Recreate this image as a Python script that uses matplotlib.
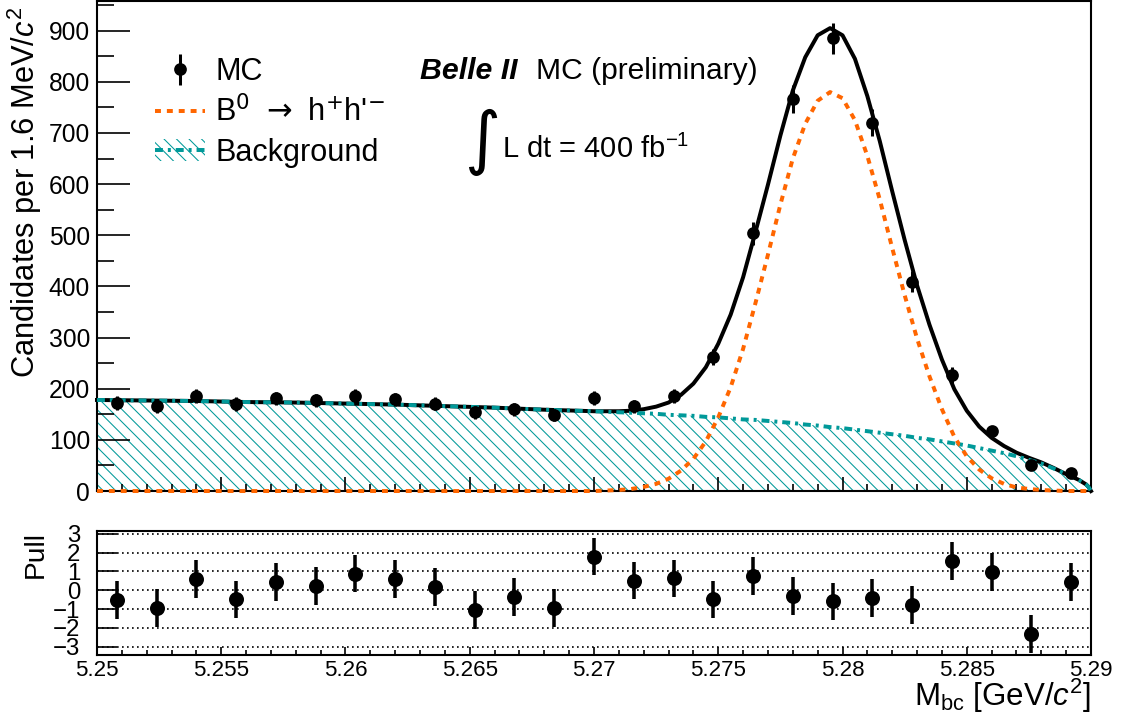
import numpy as np
import matplotlib
matplotlib.use("Agg")
import matplotlib.pyplot as plt
from matplotlib.lines import Line2D
from matplotlib.patches import Patch
from matplotlib.ticker import MultipleLocator

# histogram of MC candidates (1.6 MeV bins) and fit pulls
bin_centers = [5.2508, 5.2524, 5.2540, 5.2556, 5.2572, 5.2588, 5.2604, 5.2620, 5.2636,
               5.2652, 5.2668, 5.2684, 5.2700, 5.2716, 5.2732, 5.2748, 5.2764, 5.2780,
               5.2796, 5.2812, 5.2828, 5.2844, 5.2860, 5.2876, 5.2892]
counts = [172, 166, 185, 170, 181, 177, 185, 179, 171, 154, 160, 149, 182, 166, 186,
          262, 504, 767, 885, 720, 409, 227, 117, 50, 36]
pulls = [-0.50, -0.93, 0.59, -0.48, 0.43, 0.23, 0.89, 0.59, 0.18, -1.04, -0.36, -0.93,
         1.79, 0.52, 0.63, -0.48, 0.77, -0.30, -0.59, -0.41, -0.77, 1.55, 0.96, -2.32, 0.45]

# fit components
curve_x = [5.250, 5.252, 5.254, 5.256, 5.258, 5.260, 5.262, 5.264, 5.266, 5.268,
           5.2700, 5.2705, 5.2710, 5.2715, 5.2720, 5.2725, 5.2730, 5.2735, 5.2740, 5.2745,
           5.2750, 5.2755, 5.2760, 5.2765, 5.2770, 5.2775, 5.2780, 5.2785, 5.2790, 5.2795,
           5.2800, 5.2805, 5.2810, 5.2815, 5.2820, 5.2825, 5.2830, 5.2835, 5.2840, 5.2845,
           5.2850, 5.2855, 5.2860, 5.2865, 5.2870, 5.2875, 5.2880, 5.2885, 5.2890, 5.2895,
           5.2898, 5.2899, 5.2900]
signal = [0, 0, 0, 0, 0, 0, 0, 0, 0, 0,
          0, 1, 2, 4, 8, 14, 24, 40, 63, 97,
          144, 203, 278, 368, 462, 560, 650, 718, 763, 780,
          768, 725, 655, 570, 475, 383, 298, 224, 160, 106,
          68, 42, 25, 14, 7, 4, 2, 1, 0, 0,
          0, 0, 0]
background = [178, 177, 176, 174, 173, 171, 169, 166, 163, 159,
              156, 155, 154, 153, 152, 151, 149, 148, 147, 145,
              144, 142, 140, 139, 137, 135, 133, 130, 128, 125,
              123, 120, 117, 114, 111, 108, 104, 101, 97, 93,
              89, 84, 79, 74, 68, 61, 54, 44, 33, 22,
              13, 8, 0]

total = np.array(signal) + np.array(background)

orange = '#ff6600'
teal = '#009999'
sig_ls = (0, (1.5, 1.5))
bkg_ls = (0, (2, 1.25, 0.75, 1.25))
hatch = '\\\\\\\\'

plt.rcParams['font.family'] = ['Liberation Sans', 'DejaVu Sans']
plt.rcParams['mathtext.fontset'] = 'custom'
plt.rcParams['mathtext.rm'] = 'Liberation Sans'
plt.rcParams['mathtext.it'] = 'Liberation Sans:italic'
plt.rcParams['mathtext.bf'] = 'Liberation Sans:bold'
plt.rcParams['hatch.linewidth'] = 0.5

DPI = 150
fig = plt.figure(figsize=(1125 / DPI, 722 / DPI), dpi=DPI)
ax = fig.add_axes([0.0862, 0.3199, 0.8836, 0.6787])
axp = fig.add_axes([0.0862, 0.0928, 0.8836, 0.1722])

# main panel
ax.fill_between(curve_x, 0, background, facecolor='none', edgecolor=teal,
                hatch=hatch, linewidth=0, zorder=1)
ax.plot(curve_x, total, color='black', lw=1.9, zorder=2, clip_on=False)
ax.plot(curve_x, signal, color=orange, lw=1.9, ls=sig_ls, zorder=3, clip_on=False)
ax.plot(curve_x, background, color=teal, lw=1.9, ls=bkg_ls, zorder=4, clip_on=False)
mc = ax.errorbar(bin_centers, counts, yerr=np.sqrt(counts), fmt='o', color='black',
                 ms=5.1, elinewidth=1.45, capsize=0, zorder=5)

ax.set_xlim(5.25, 5.29)
ax.set_ylim(0, 958)
ax.xaxis.set_major_locator(MultipleLocator(0.005))
ax.xaxis.set_minor_locator(MultipleLocator(0.001))
ax.yaxis.set_major_locator(MultipleLocator(100))
ax.yaxis.set_minor_locator(MultipleLocator(50))
ax.tick_params(which='both', direction='in', top=False, right=False, width=0.8)
ax.tick_params(axis='y', which='major', length=15.8, labelsize=11.8, pad=3.4)
ax.tick_params(axis='y', which='minor', length=8.2)
ax.tick_params(axis='x', which='major', length=6.7, labelbottom=False)
ax.tick_params(axis='x', which='minor', length=3.4)
for s in ax.spines.values():
    s.set_linewidth(1.0)

handles = [mc,
           Line2D([], [], color=orange, lw=1.9, ls=sig_ls),
           (Patch(facecolor='none', edgecolor=teal, hatch=hatch, lw=0),
            Line2D([], [], color=teal, lw=1.9, ls=bkg_ls))]
labels = ['MC', r"B$^{0}\ \rightarrow\ $h$^{+}$h'$^{-}$", 'Background']
leg = ax.legend(handles, labels, loc='upper left', bbox_to_anchor=(155 / 1125, 1 - 57 / 722),
                bbox_transform=fig.transFigure, frameon=False, fontsize=14.7,
                handlelength=1.63, handletextpad=0.33, labelspacing=0.3,
                borderaxespad=0, borderpad=0)
leg.get_texts()[1].set_math_fontfamily('dejavusans')

fig.text(420 / 1125, 1 - 79 / 722, 'Belle II', fontsize=14.5, fontweight='bold',
         fontstyle='italic', va='baseline')
fig.text(536 / 1125, 1 - 79 / 722, 'MC (preliminary)', fontsize=14.4, va='baseline')
fig.text(481 / 1125, 1 - 142 / 722, r'$\int$', fontsize=23.5, ha='center', va='center',
         math_fontfamily='dejavusans')
fig.text(502 / 1125, 1 - 158 / 722, 'L dt = 400 fb$^{-1}$', fontsize=14, va='baseline')

# pull panel
for v in range(-3, 4):
    axp.axhline(v, color='black', lw=0.8, ls=(0, (1, 2)), zorder=0)
axp.errorbar(bin_centers, pulls, yerr=1, fmt='o', color='black', ms=6.2,
             elinewidth=1.7, capsize=0, zorder=3)
axp.set_xlim(5.25, 5.29)
axp.set_ylim(-3.44, 3.17)
axp.set_yticks(range(-3, 4))
axp.xaxis.set_major_locator(MultipleLocator(0.005))
axp.xaxis.set_minor_locator(MultipleLocator(0.001))
axp.set_xticks([5.25, 5.255, 5.26, 5.265, 5.27, 5.275, 5.28, 5.285, 5.29])
axp.set_xticklabels(['5.25', '5.255', '5.26', '5.265', '5.27', '5.275', '5.28', '5.285', '5.29'])
axp.tick_params(which='both', direction='in', top=False, right=False, width=0.8)
axp.tick_params(axis='y', which='major', length=9.6, labelsize=11.5, pad=8)
axp.tick_params(axis='x', which='major', length=4, labelsize=10.75, pad=2.4)
axp.tick_params(axis='x', which='minor', length=2.4)
for s in axp.spines.values():
    s.set_linewidth(1.0)

fig.text(25 / 1125, 1 - 192 / 722, 'Candidates per 1.6 MeV/$c^{2}$', rotation=90,
         ha='center', va='center', fontsize=14.8)
fig.text(36 / 1125, 1 - 554 / 722, 'Pull', rotation=90, ha='center', va='center',
         fontsize=13.5)
fig.text(1091 / 1125, 1 - 706 / 722, r'M$_{\mathrm{bc}}$ [GeV/$c^{2}$]', ha='right',
         va='baseline', fontsize=15)

fig.savefig('out.png', dpi=DPI)
